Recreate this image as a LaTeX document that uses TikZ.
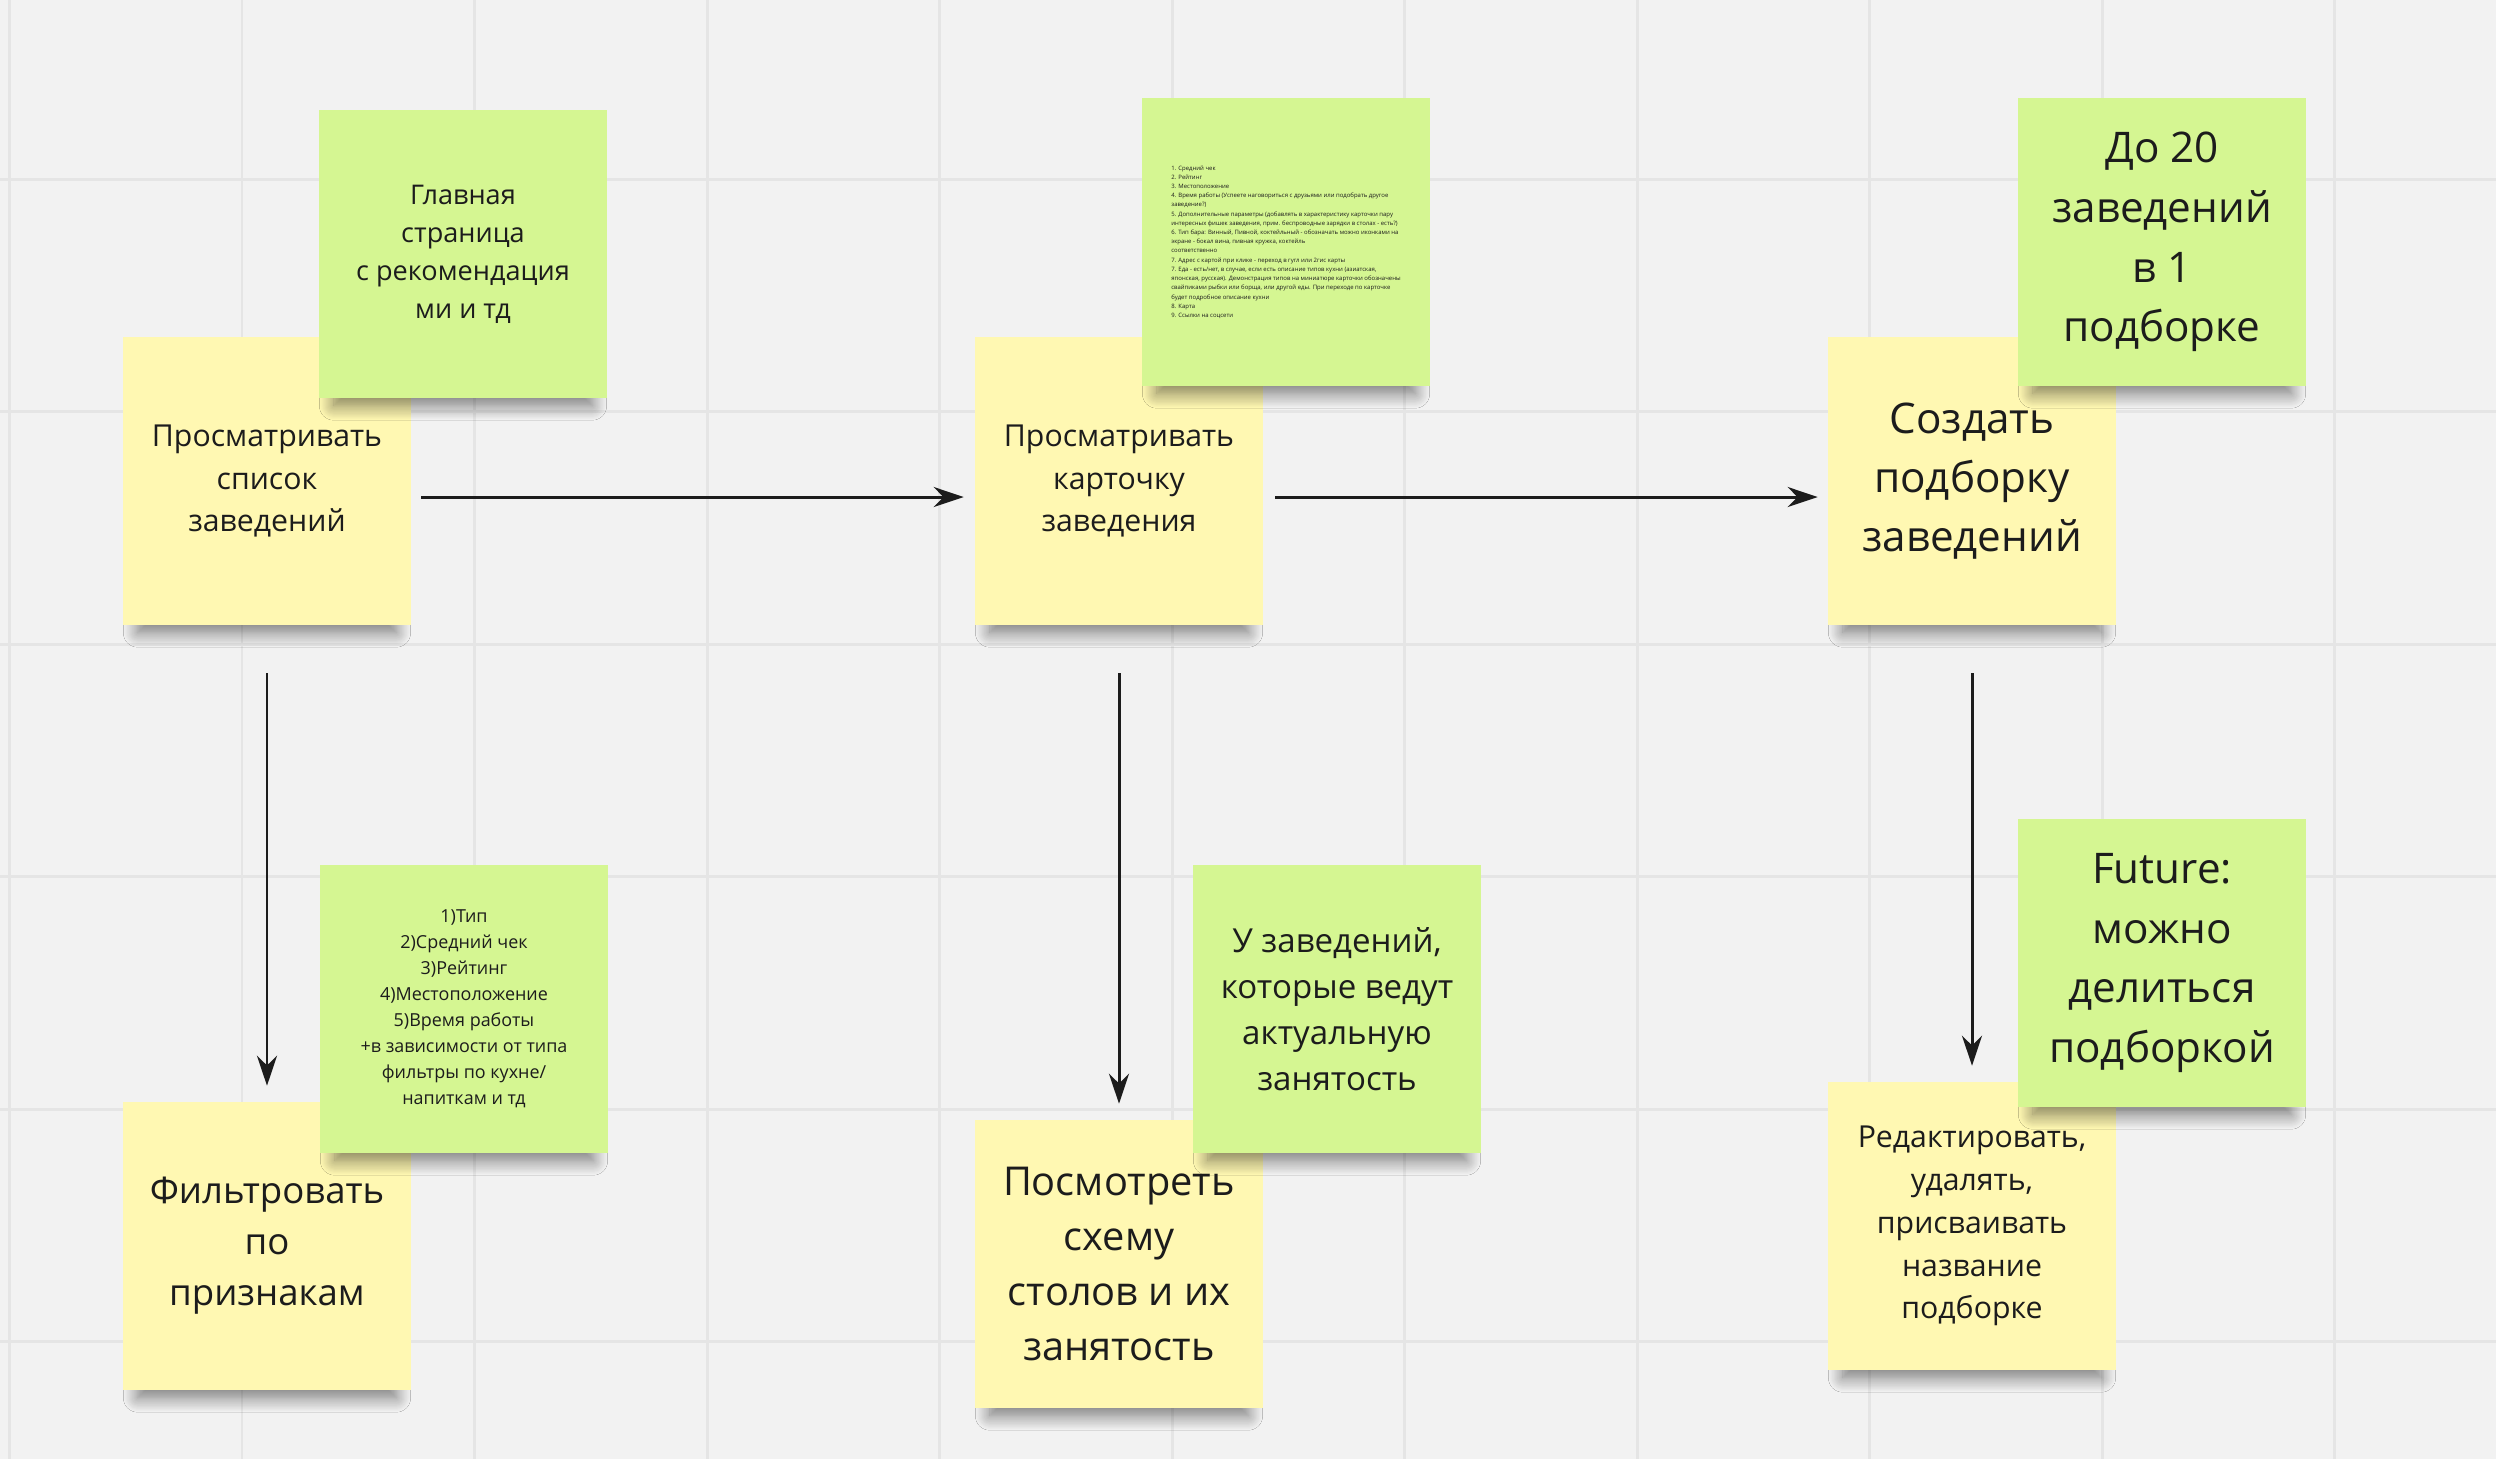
\documentclass[tikz,border=0pt]{standalone}
\usepackage{fontspec}
\setmainfont{Open Sans}
\usetikzlibrary{arrows.meta,shadows.blur}
\definecolor{board}{RGB}{242,242,242}
\definecolor{gridline}{RGB}{229,229,229}
\definecolor{noteyellow}{RGB}{255,248,178}
\definecolor{notegreen}{RGB}{213,246,146}
\definecolor{ink}{RGB}{28,28,28}
\newcommand{\notefont}[2]{\fontsize{#1}{#2}\selectfont}
\tikzset{note/.style={minimum width=2.87cm,minimum height=2.87cm,align=center,text=ink,inner sep=2pt,
    blur shadow={shadow scale=.9,shadow xshift=0cm,shadow yshift=-0.25cm,shadow blur radius=0.16cm,shadow blur steps=14,shadow opacity=50}}}
\tikzset{yellownote/.style={note,fill=noteyellow}}
\tikzset{greennote/.style={note,fill=notegreen}}
\tikzset{flow/.style={-{Stealth[length=0.3cm,width=0.2cm]},ink,line width=0.85pt}}

\begin{document}
\begin{tikzpicture}[x=0.01cm,y=-0.01cm]
    \useasboundingbox (0,0) rectangle (2496,1459);
    \fill [board] (0,0) rectangle (2496,1459);
    \foreach \i in {0,...,10} {
        \draw [gridline, line width=0.85pt] (9.5+232.5*\i,0) -- (9.5+232.5*\i,1459);
    }
    \foreach \i in {0,...,5} {
        \draw [gridline, line width=0.85pt] (0,179+232.5*\i) -- (2496,179+232.5*\i);
    }
    % steps
    \node [yellownote, font=\notefont{8.6}{12.2}] (list) at (267,481) {Просматривать\\список\\заведений};
    \node [yellownote, font=\notefont{8.6}{12.2}] (card) at (1119,481) {Просматривать\\карточку\\заведения};
    \node [yellownote, font=\notefont{12}{16.8}] (create) at (1972,481) {Создать\\подборку\\заведений};
    \node [yellownote, font=\notefont{10.4}{14.5}] (filter) at (267,1246) {Фильтровать\\по\\признакам};
    \node [yellownote, font=\notefont{11.3}{15.6}] (scheme) at (1119,1264) {Посмотреть\\схему\\столов и их\\занятость};
    \node [yellownote, font=\notefont{8.6}{12.2}] (edit) at (1972,1226) {Редактировать,\\удалять,\\присваивать\\название\\подборке};
    % remarks
    \node [greennote, font=\notefont{7.7}{10.8}] (main) at (463,254) {Главная\\страница\\с рекомендация\\ми и тд};
    \node [greennote, align=left, font=\notefont{1.7}{2.62}] (details) at (1286,242) {1. Средний чек\\
        2. Рейтинг\\
        3. Местоположение\\
        4. Время работы (Успеете наговориться с друзьями или подобрать другое\\
        заведение?)\\
        5. Дополнительные параметры (добавлять в характеристику карточки пару\\
        интересных фишек заведения, прим. беспроводные зарядки в столах - есть?)\\
        6. Тип бара: Винный, Пивной, коктейльный - обозначать можно иконками на\\
        экране - бокал вина, пивная кружка, коктейль\\
        соответственно\\
        7. Адрес с картой при клике - переход в гугл или 2гис карты\\
        7. Еда - есть/нет, в случае, если есть описание типов кухни (азиатская,\\
        японская, русская). Демонстрация типов на миниатюре карточки обозначены\\
        свайпиками рыбки или борща, или другой еды. При переходе по карточке\\
        будет подробное описание кухни\\
        8. Карта\\
        9. Ссылки на соцсети};
    \node [greennote, font=\notefont{12}{17}] (limit) at (2162,242) {До 20\\заведений\\в 1\\подборке};
    \node [greennote, font=\notefont{5.1}{7.4}] (filters) at (464,1009) {1)Тип\\2)Средний чек\\3)Рейтинг\\4)Местоположение\\5)Время работы\\+в зависимости от типа\\фильтры по кухне/\\напиткам и тд};
    \node [greennote, font=\notefont{9.4}{13.1}] (busy) at (1337,1009) {У заведений,\\которые ведут\\актуальную\\занятость};
    \node [greennote, font=\notefont{12}{17}] (future) at (2162,963) {Future:\\можно\\делиться\\подборкой};
    % flow
    \draw [flow, shorten <=0.1cm, shorten >=0.11cm] ([yshift=-0.16cm]list.east) -- ([yshift=-0.16cm]card.west);
    \draw [flow, shorten <=0.12cm, shorten >=0.1cm] ([yshift=-0.16cm]card.east) -- ([yshift=-0.16cm]create.west);
    \draw [flow, shorten <=0.48cm, shorten >=0.16cm] (list) -- (filter);
    \draw [flow, shorten <=0.48cm, shorten >=0.16cm] (card) -- (scheme);
    \draw [flow, shorten <=0.48cm, shorten >=0.16cm] (create) -- (edit);
\end{tikzpicture}
\end{document}
